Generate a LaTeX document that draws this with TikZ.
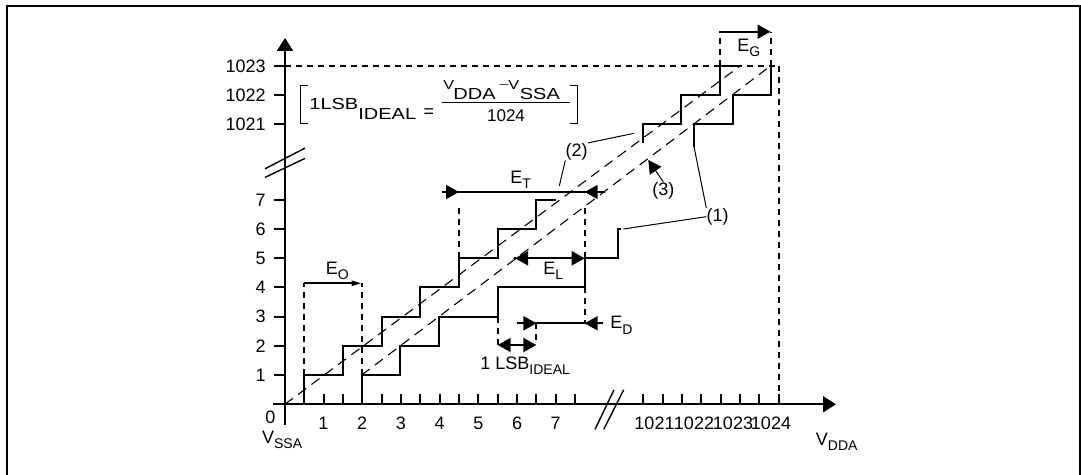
\documentclass[tikz,border=0pt]{standalone}
\usepackage{fontspec}
\setmainfont{Liberation Sans}
\newfontfamily\lgdfont[FakeStretch=1.25]{Liberation Sans}
\usetikzlibrary{arrows.meta}

\newcommand{\lo}[1]{\raisebox{-2.5pt}{\fontsize{7}{8}\selectfont #1}}

\tikzset{
	axis/.style={line width=1pt},
	stair/.style={line width=1pt},
	guide/.style={line width=1pt, dash pattern=on 3pt off 2.5pt},
	ideal/.style={line width=0.55pt, dash pattern=on 5pt off 3.3pt},
	leader/.style={line width=0.5pt},
	lbl/.style={font=\fontsize{9}{10}\selectfont, inner sep=0pt},
	lgd/.style={font=\lgdfont\fontsize{8}{9}\selectfont, inner sep=0pt, anchor=base west},
	errtip/.tip={Triangle[length=6.5pt, width=7pt]},
	axtip/.tip={Triangle[length=6.5pt, width=8pt]},
}

\begin{document}
\begin{tikzpicture}[x=0.5pt, y=-0.5pt]
	\useasboundingbox (0,0) rectangle (1081,475);
	% frame
	\draw [line width=1pt] (7,476) -- (7,5.7) -- (1080,5.7) -- (1080,476);

	% axes
	\draw [axis, -{axtip}] (285,425) -- (285,38);
	\draw [axis, -{axtip}] (273,404.3) -- (836,404.3);
	\foreach \n in {1,...,7} {
		\draw [axis] (274,404.3-29.2*\n) -- (285,404.3-29.2*\n);
		\node [lbl, anchor=east] (y\n) at (266,404.3-29.2*\n) {\n};
	}
	\foreach \n/\yy in {1021/124.4, 1022/95.2, 1023/66} {
		\draw [axis] (274,\yy) -- (285,\yy);
		\node [lbl, anchor=east] (y\n) at (266,\yy) {\n};
	}
	\node [lbl] (y0) at (270.3,417.5) {0};
	\foreach \n in {1,...,15}
		\draw [axis] (284.8+19.35*\n,404.3) -- ++(0,-10);
	\foreach \n in {0,...,7}
		\draw [axis] (643.2+19.35*\n,404.3) -- ++(0,-10);
	\foreach \n in {1,...,7}
		\node [lbl] (x\n) at (284.8+38.7*\n,423.3) {\n};
	\foreach \n/\xx in {1021/654.5, 1022/694, 1023/733, 1024/771}
		\node [lbl] (x\n) at (\xx,423.3) {\n};
	\node [lbl, anchor=base west] (vssa) at (261.7,443.3) {V\lo{SSA}};
	\node [lbl, anchor=base west] (vdda) at (815.5,445) {V\lo{DDA}};

	% axis breaks
	\draw [line width=0.7pt] (265,168.8) -- (305,148.1);
	\draw [line width=0.7pt] (265,177.4) -- (305,158.4);
	\draw [line width=0.7pt] (595,429.4) -- (614,389.8);
	\draw [line width=0.7pt] (603.7,429.4) -- (623.7,389.8);

	% full scale guides
	\draw [guide] (285,66) -- (779,66);
	\draw [guide] (778.7,66) -- (778.7,404.3);

	% ideal and end point lines
	\draw [ideal] (284.8,404.3) -- (740,66);
	\draw [ideal] (361.6,375.1) -- (770.5,66);

	% ideal transfer curve (2)
	\draw [stair] (304.2,404.3)
		\foreach \n in {1,...,6} { |- (304.2+38.7*\n,404.3-29.2*\n) }
		|- (555.7,199.9);
	\draw [stair] (643.2,143.3) |- (681.2,124.4) |- (720,95.2) |- (740,66);

	% actual transfer curve (1)
	\draw [stair] (361.6,404.3) |- (400.3,375.1) |- (439,345.9) |- (497.7,316.7)
		|- (584.7,287.5) |- (617.6,258.3) |- (621,229.1);
	\draw [stair] (694,146.7) |- (733.3,124.4) |- (770.5,95.2) -- (770.5,66);

	% offset error
	\draw [guide] (304.2,375.1) -- (304.2,283.3);
	\draw [guide] (361.6,375.1) -- (361.6,283.3);
	\draw [stair, -{Triangle[length=5pt, width=2.5pt]}] (304.2,283.3) -- (361.6,283.3);
	\node [lbl, anchor=base west] (eo) at (325.5,275) {E\lo{O}};

	% total error
	\draw [guide] (459,258.3) -- (459,206);
	\draw [guide] (584.7,258.3) -- (584.7,206);
	\draw [stair] (441.7,192) -- (605,192);
	\draw [stair, -{errtip}] (441.7,192) -- (459,192);
	\draw [stair, -{errtip}] (605,192) -- (584.7,192);
	\node [lbl, anchor=base west] (et) at (510,183.3) {E\lo{T}};

	% linearity error
	\fill (515,258.3) circle (1.6);
	\draw [stair, {errtip}-{errtip}] (515,258.3) -- (584.7,258.3);
	\node [lbl, anchor=base west] (el) at (543,275) {E\lo{L}};

	% differential error
	\draw [guide] (584.7,287.5) -- (584.7,323.3);
	\draw [guide] (536.4,323.3) -- (536.4,345);
	\draw [guide] (497.7,316.7) -- (497.7,345);
	\draw [stair] (517.3,323.3) -- (603.3,323.3);
	\draw [stair, -{errtip}] (517.3,323.3) -- (536.4,323.3);
	\draw [stair, -{errtip}] (603.3,323.3) -- (584.7,323.3);
	\node [lbl, anchor=base west] (ed) at (610,329) {E\lo{D}};
	\draw [stair, {errtip}-{errtip}] (497.7,345) -- (536.4,345);
	\node [lbl, anchor=base west] (lsb) at (480,370) {1 LSB\lo{IDEAL}};

	% gain error
	\draw [guide] (720,66) -- (720,31.7);
	\draw [guide] (770.5,66) -- (770.5,31.7);
	\draw [stair, -{errtip}] (719.3,31.7) -- (770.5,31.7);
	\node [lbl, anchor=base west] (eg) at (737,51.7) {E\lo{G}};

	% curve labels
	\node [lbl] (two) at (576.7,151.7) {(2)};
	\draw [leader] (two.north east) -- (634,133.3);
	\draw [leader] (two.south west) -- (559.3,186);
	\node [lbl] (three) at (663.3,190.7) {(3)};
	\draw [leader, -{errtip}] (three.north) -- (648.3,160);
	\node [lbl] (one) at (717.7,216.7) {(1)};
	\draw [leader] (one.north west) -- (694,146.7);
	\draw [leader] (one.west) -- (623.3,229);

	% 1 LSB definition
	\draw [leader] (308.3,86) -| (300,124) -- (308.3,124);
	\draw [leader] (570,86) -| (577.7,124) -- (570,124);
	\node [lgd] (lsbA) at (309,110) {1LSB};
	\node [lgd] (lsbB) at (358,120) {IDEAL};
	\node [lbl, anchor=center] (lsbEq) at (429,113.3) {=};
	\draw [leader] (441.7,102.3) -- (570,102.3);
	\node [lgd] (numV1) at (443,90) {\fontsize{6.5}{7}\selectfont V};
	\node [lgd] (numA) at (453,99.3) {DDA};
	\node [lbl, anchor=center] (numMinus) at (504,85) {\fontsize{7}{7}\selectfont $-$};
	\node [lgd] (numV2) at (508,90) {\fontsize{6.5}{7}\selectfont V};
	\node [lgd] (numB) at (519.5,99.3) {SSA};
	\node [lbl, anchor=base] (den) at (506,121.7) {\fontsize{8.5}{9}\selectfont 1024};
\end{tikzpicture}
\end{document}
